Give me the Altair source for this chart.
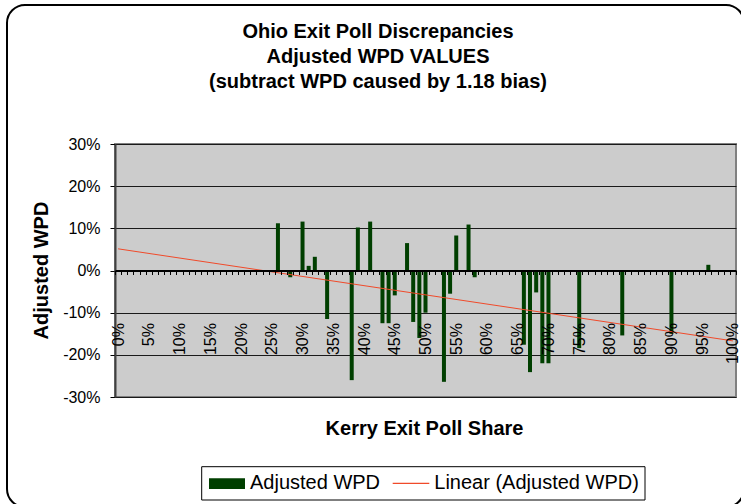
import altair as alt
import pandas as pd

FONT = "Liberation Sans"
GREEN = "#003f00"
TREND_RED = "#f04a2a"

# Kerry exit poll share (%) and adjusted WPD (%) for each precinct group
share = [26, 28, 30, 31, 32, 34, 38, 39, 41, 43, 44, 45, 47, 48, 49, 50,
         53, 54, 55, 57, 58, 66, 67, 68, 69, 70, 75, 82, 87, 90, 96]
wpd = [11.2, -1.6, 11.6, 1.1, 3.25, -11.5, -26.0, 10.2, 11.6, -12.5, -12.5,
       -5.9, 6.5, -12.2, -16.0, -10.0, -26.4, -5.5, 8.3, 10.9, -1.6, -17.6,
       -24.1, -5.2, -22.0, -22.0, -18.4, -15.4, -0.3, -15.0, 1.35]

# category axis: one slot per whole percent, 0% .. 100%
categories = list(range(0, 101))
y_ticks = [-30, -20, -10, 0, 10, 20, 30]

title_lines = ["Ohio Exit Poll Discrepancies",
               "Adjusted WPD VALUES",
               "(subtract WPD caused by 1.18 bias)"]
x_title = "Kerry Exit Poll Share"
y_title = "Adjusted WPD"
legend_labels = ["Adjusted WPD", "Linear (Adjusted WPD)"]

df = pd.DataFrame({"share": share, "wpd": wpd})

y_scale = alt.Scale(domain=[-30, 30], nice=False, zero=False)

bars = alt.Chart(df).mark_bar(size=4, color=GREEN).encode(
    x=alt.X(
        "share:O",
        scale=alt.Scale(domain=categories, paddingInner=0, paddingOuter=0),
        axis=alt.Axis(
            title=None,
            orient="bottom",
            offset=-126.5,
            grid=False,
            domainColor="black",
            domainWidth=2,
            tickColor="black",
            tickSize=4,
            tickWidth=1,
            tickBand="extent",
            labelAngle=270,
            labelPadding=48,
            labelFont=FONT,
            labelFontSize=16,
            labelColor="black",
            labelOverlap=False,
            labelExpr="datum.value % 5 == 0 ? datum.value + '%' : ''",
            zindex=1,
        ),
    ),
    y=alt.Y(
        "wpd:Q",
        scale=y_scale,
        axis=alt.Axis(
            title=None,
            values=y_ticks,
            labelExpr="datum.value + '%'",
            labelFont=FONT,
            labelFontSize=16,
            labelColor="black",
            labelPadding=10,
            tickColor="black",
            tickSize=5,
            domainColor="#404040",
            domainWidth=2,
            grid=True,
            gridColor="#1a1a1a",
            gridWidth=1,
        ),
    ),
)

trend = alt.Chart(df).transform_regression(
    "share", "wpd", extent=[0, 100]
).mark_line(color=TREND_RED, strokeWidth=1).encode(
    x=alt.X("share:Q", scale=alt.Scale(domain=[-0.5, 100.5], nice=False, zero=False), axis=None),
    y=alt.Y("wpd:Q", scale=y_scale),
)

# outer chart frame with rounded corners
frame = alt.Chart(pd.DataFrame({"k": [0]})).mark_rect(
    filled=False, stroke="black", strokeWidth=2, cornerRadius=18
).encode(
    x=alt.value(-108), x2=alt.value(629), y=alt.value(-139), y2=alt.value(363)
)

title_text = alt.Chart(pd.DataFrame({"t": ["\n".join(title_lines)]})).mark_text(
    font=FONT, fontSize=20, fontWeight="bold", color="black",
    align="center", baseline="alphabetic", lineBreak="\n", lineHeight=24.7,
).encode(text="t:N", x=alt.value(263), y=alt.value(-105.7))

x_title_text = alt.Chart(pd.DataFrame({"t": [x_title]})).mark_text(
    font=FONT, fontSize=20, fontWeight="bold", color="black",
    align="center", baseline="alphabetic",
).encode(text="t:N", x=alt.value(309.5), y=alt.value(291))

y_title_text = alt.Chart(pd.DataFrame({"t": [y_title]})).mark_text(
    font=FONT, fontSize=20, fontWeight="bold", color="black",
    align="center", baseline="alphabetic", angle=270,
).encode(text="t:N", x=alt.value(-67), y=alt.value(126.5))

# legend: framed box with a bar swatch and a trend-line swatch
legend_box = alt.Chart(pd.DataFrame({"k": [0]})).mark_rect(
    fill="white", stroke="black", strokeWidth=1
).encode(x=alt.value(86.7), x2=alt.value(530), y=alt.value(322.7), y2=alt.value(356))

legend_swatch = alt.Chart(pd.DataFrame({"k": [0]})).mark_rect(color=GREEN).encode(
    x=alt.value(94), x2=alt.value(130), y=alt.value(334.3), y2=alt.value(345)
)

legend_line = alt.Chart(pd.DataFrame({"k": [0]})).mark_rule(
    color=TREND_RED, strokeWidth=1.2
).encode(x=alt.value(277.7), x2=alt.value(314.3), y=alt.value(339.3))

legend_text1 = alt.Chart(pd.DataFrame({"t": [legend_labels[0]]})).mark_text(
    font=FONT, fontSize=20, color="black", align="left", baseline="alphabetic"
).encode(text="t:N", x=alt.value(135), y=alt.value(345))

legend_text2 = alt.Chart(pd.DataFrame({"t": [legend_labels[1]]})).mark_text(
    font=FONT, fontSize=20, color="black", align="left", baseline="alphabetic"
).encode(text="t:N", x=alt.value(319.3), y=alt.value(345))

chart = alt.layer(
    frame, bars, trend, title_text, x_title_text, y_title_text,
    legend_box, legend_swatch, legend_line, legend_text1, legend_text2,
).resolve_scale(
    x="independent"
).properties(
    width=621,
    height=253,
    autosize=alt.AutoSizeParams(type="none"),
    padding={"left": 115, "top": 144, "right": 5, "bottom": 107},
    background="white",
).configure(
    font=FONT
).configure_view(
    fill="#cccccc", stroke="#808080", strokeWidth=2
)

chart.save("out.html", embed_options={"renderer": "svg", "actions": False})
